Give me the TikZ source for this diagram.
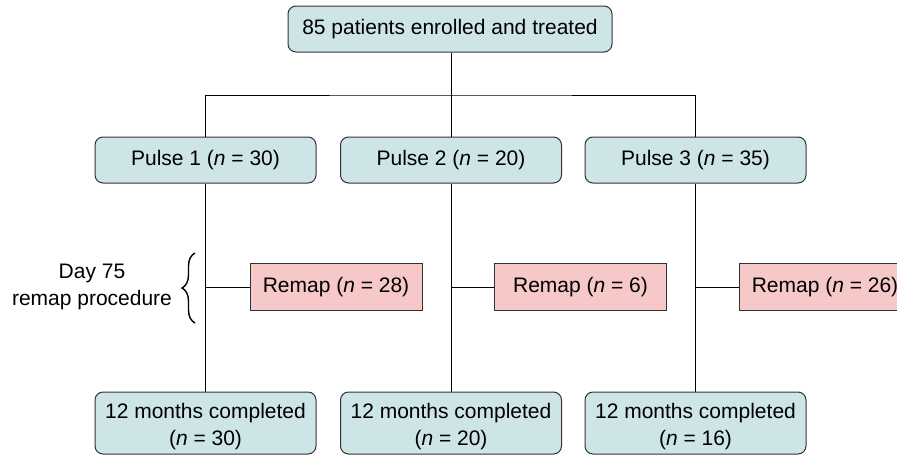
\documentclass[tikz,border=0pt]{standalone}
\usepackage{fontspec}
\setmainfont{Liberation Sans}
\usetikzlibrary{decorations.pathreplacing}
\definecolor{boxblue}{RGB}{205,229,231}
\definecolor{boxpink}{RGB}{246,200,200}
\definecolor{edgegray}{RGB}{50,50,50}
\newcommand{\topstrut}{\rule{0pt}{22pt}}
\begin{document}
\begin{tikzpicture}[x=1pt,y=-1pt,
  txt/.style={font=\fontsize{21}{27}\selectfont},
  bluebox/.style={txt,draw=edgegray,line width=1pt,fill=boxblue,rounded corners=8pt,inner sep=0pt,align=center},
  pinkbox/.style={txt,draw=edgegray,line width=1pt,fill=boxpink,inner sep=0pt,align=center,minimum width=172pt,minimum height=47pt},
  conn/.style={draw=black,line width=0.9pt}]
\useasboundingbox (0,0) rectangle (897,456);
\clip (0,0) rectangle (897,456);
\node[bluebox,minimum width=324pt,minimum height=46pt] (top) at (450,29) {85 patients enrolled and treated};
\node[bluebox,minimum width=221pt,minimum height=46pt] (p1) at (205.5,160) {Pulse 1 (\textit{n} = 30)};
\node[bluebox,minimum width=221pt,minimum height=46pt] (p2) at (451,160) {Pulse 2 (\textit{n} = 20)};
\node[bluebox,minimum width=221pt,minimum height=46pt] (p3) at (695.5,160) {Pulse 3 (\textit{n} = 35)};
\node[pinkbox] (r1) at (336,287) {Remap (\textit{n} = 28)};
\node[pinkbox] (r2) at (580.5,287) {Remap (\textit{n} = 6)};
\node[pinkbox] (r3) at (825,287) {Remap (\textit{n} = 26)};
\node[bluebox,minimum width=221pt,minimum height=62pt] (b1) at (205.5,423) {\topstrut12 months completed\\(\textit{n} = 30)};
\node[bluebox,minimum width=221pt,minimum height=62pt] (b2) at (451,423) {\topstrut12 months completed\\(\textit{n} = 20)};
\node[bluebox,minimum width=221pt,minimum height=62pt] (b3) at (695.5,423) {\topstrut12 months completed\\(\textit{n} = 16)};
\coordinate (bus) at (451,95);
\draw[conn] (top.south -| bus) -- (bus);
\draw[conn] (p1.north) |- (bus) -| (p3.north);
\draw[conn] (bus) -- (p2.north);
\draw[conn] (p1.south) -- (b1.north);
\draw[conn] (p2.south) -- (b2.north);
\draw[conn] (p3.south) -- (b3.north);
\draw[conn] (r1.west) -- (r1.west -| p1.south);
\draw[conn] (r2.west) -- (r2.west -| p2.south);
\draw[conn] (r3.west) -- (r3.west -| p3.south);
\coordinate (bb) at (195,323);
\coordinate (bt) at (195,253);
\draw[conn,line width=1.4pt,decorate,decoration={brace,amplitude=13pt}] (bb) -- (bt);
\node[txt,align=center] (lbl) at (92,287) {Day 75\\remap procedure};
\end{tikzpicture}
\end{document}
